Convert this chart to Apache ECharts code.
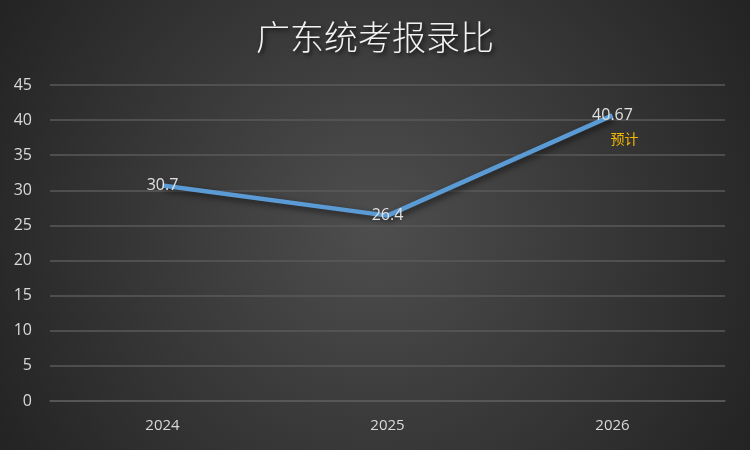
<!DOCTYPE html>
<html><head><meta charset="utf-8">
<script src="https://cdn.jsdelivr.net/npm/echarts@6/dist/echarts.min.js"></script>
<style>html,body{margin:0;padding:0;background:#333;}#c{width:750px;height:450px;}</style>
</head><body><div id="c"></div>
<script>
const titleText = '广东统考报录比';
const categories = ['2024', '2025', '2026'];
const values = [30.7, 26.4, 40.67];
const noteText = '预计';
const yTicks = [0, 5, 10, 15, 20, 25, 30, 35, 40, 45];

const chart = echarts.init(document.getElementById('c'));
const data = values.map((v, i) => {
  if (i === values.length - 1) {
    return {
      value: v,
      label: {
        formatter: '{v|' + v + '}\n{n|' + noteText + '}',
        offset: [0, 12],
        rich: {
          v: { color: '#e0e0e0', fontSize: 16, fontFamily: 'Open Sans', lineHeight: 23 },
          n: { color: '#f5b800', fontSize: 14, fontFamily: 'Noto Sans CJK SC', lineHeight: 23, padding: [0, 0, 0, 24] }
        }
      }
    };
  }
  return v;
});
chart.setOption({
  backgroundColor: {
    type: 'radial', x: 0.5, y: 0.5, r: 0.95,
    colorStops: [{ offset: 0, color: '#4e4e4e' }, { offset: 1, color: '#242424' }]
  },
  title: {
    text: titleText, left: 'center', top: 15,
    textStyle: {
      color: '#f2f2f2', fontSize: 34, fontWeight: 300, fontFamily: 'Noto Sans CJK SC',
      textShadowColor: 'rgba(0,0,0,0.8)', textShadowBlur: 4, textShadowOffsetX: 2, textShadowOffsetY: 2
    }
  },
  grid: { left: 50, right: 25, top: 85, bottom: 49 },
  xAxis: {
    type: 'category', data: categories, boundaryGap: true,
    axisLine: { show: true, lineStyle: { color: '#595959', width: 1.5 } },
    axisTick: { show: false },
    axisLabel: { color: '#d9d9d9', fontSize: 15, fontFamily: 'Open Sans', margin: 17 }
  },
  yAxis: {
    type: 'value', min: yTicks[0], max: yTicks[yTicks.length - 1], interval: 5,
    axisLine: { show: false }, axisTick: { show: false },
    axisLabel: { color: '#d9d9d9', fontSize: 16, fontFamily: 'Open Sans', margin: 18 },
    splitLine: { lineStyle: { color: '#5a5a5a', width: 1.5 } }
  },
  series: [{
    type: 'line', data: data, symbol: 'circle', symbolSize: 1, showSymbol: true,
    itemStyle: { color: 'rgba(0,0,0,0)' },
    lineStyle: { color: '#5b9bd5', width: 4.5, shadowColor: 'rgba(0,0,0,0.6)', shadowBlur: 6, shadowOffsetX: 2, shadowOffsetY: 3 },
    label: {
      show: true, position: 'inside', color: '#e0e0e0', fontSize: 16, fontFamily: 'Open Sans'
    },
    animation: false
  }]
});
</script></body></html>
